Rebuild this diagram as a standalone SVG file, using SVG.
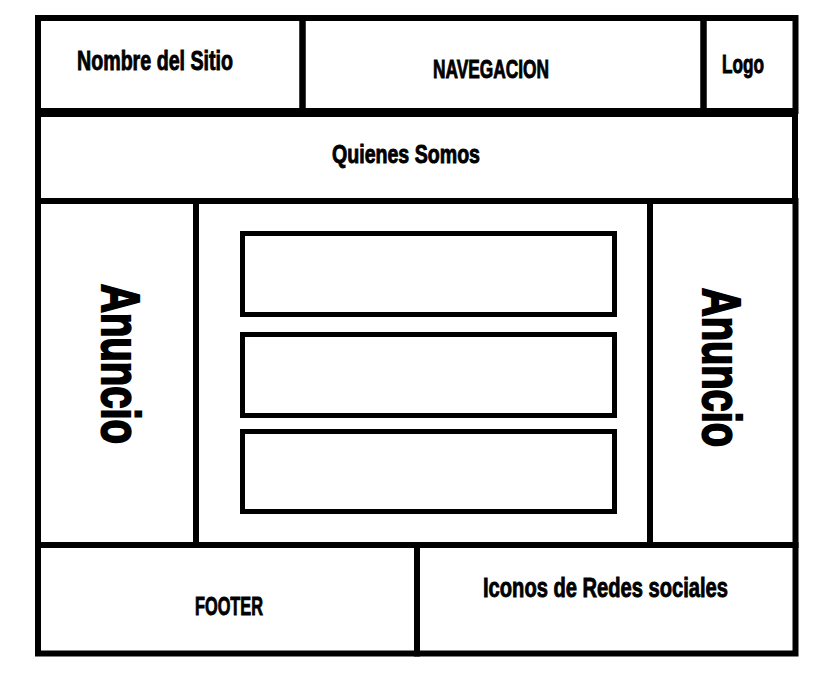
<svg xmlns="http://www.w3.org/2000/svg" width="825" height="681" viewBox="0 0 825 681">
<style>
.box{fill:none;stroke:#000;stroke-width:6;stroke-linecap:square}
.inner{fill:none;stroke:#000;stroke-width:5}
.t{font-family:"Liberation Sans","Arial",sans-serif;font-weight:bold;fill:#000;stroke:#000;stroke-width:0.9}
.big{stroke-width:2.2}
</style>
<rect width="825" height="681" fill="#fff"/>
<g id="nombre-sitio">
<rect class="box" x="38" y="18" width="264.5" height="93"/>
<text class="t" x="77" y="70" font-size="27" textLength="156" lengthAdjust="spacingAndGlyphs">Nombre del Sitio</text>
</g>
<g id="navegacion">
<rect class="box" x="302.5" y="18" width="401" height="93"/>
<text class="t" x="433" y="78" font-size="25" textLength="116" lengthAdjust="spacingAndGlyphs">NAVEGACION</text>
</g>
<g id="logo">
<rect class="box" x="703.5" y="18" width="92" height="93"/>
<text class="t" x="722" y="73" font-size="25" textLength="42" lengthAdjust="spacingAndGlyphs">Logo</text>
</g>
<g id="quienes-somos">
<rect class="box" x="38" y="114" width="757" height="87"/>
<text class="t" x="332" y="163" font-size="25" textLength="148" lengthAdjust="spacingAndGlyphs">Quienes Somos</text>
</g>
<g id="anuncio-izq">
<rect class="box" x="38" y="201" width="158" height="344"/>
<text class="t big" transform="translate(102,284) rotate(90)" x="0" y="0" font-size="53" textLength="160" lengthAdjust="spacingAndGlyphs">Anuncio</text>
</g>
<g id="contenido">
<rect class="box" x="196" y="201" width="454" height="344"/>
<rect class="inner" x="242.5" y="233.5" width="372" height="81"/>
<rect class="inner" x="242.5" y="334.5" width="372" height="81"/>
<rect class="inner" x="242.5" y="431.5" width="372" height="80"/>
</g>
<g id="anuncio-der">
<rect class="box" x="650" y="201" width="145.5" height="344"/>
<text class="t big" transform="translate(703,288) rotate(90)" x="0" y="0" font-size="53" textLength="159" lengthAdjust="spacingAndGlyphs">Anuncio</text>
</g>
<g id="footer">
<rect class="box" x="38" y="545" width="379" height="108.5"/>
<text class="t" x="195" y="615" font-size="25" textLength="68" lengthAdjust="spacingAndGlyphs">FOOTER</text>
</g>
<g id="redes-sociales">
<rect class="box" x="417" y="545" width="378.5" height="108.5"/>
<text class="t" x="483" y="597" font-size="27" textLength="245" lengthAdjust="spacingAndGlyphs">Iconos de Redes sociales</text>
</g>
<g id="connectors"></g>
</svg>
